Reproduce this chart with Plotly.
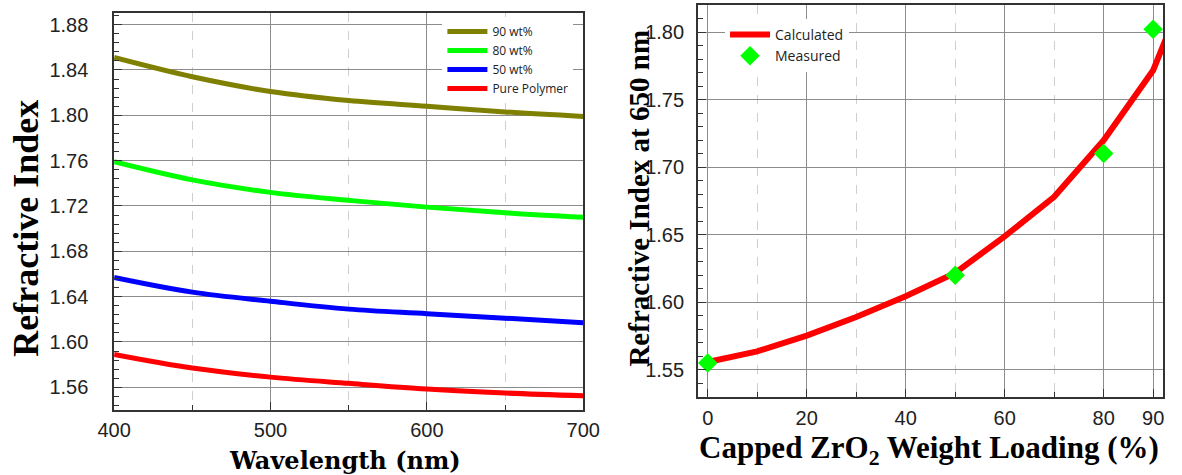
import plotly.graph_objects as go

# Wavelength-dependent refractive index of the composites
wavelength_nm = [400, 450, 500, 550, 600, 650, 700]
n_90wt = [1.851, 1.834, 1.821, 1.813, 1.808, 1.803, 1.799]
n_80wt = [1.759, 1.743, 1.732, 1.725, 1.719, 1.714, 1.710]
n_50wt = [1.657, 1.644, 1.636, 1.629, 1.625, 1.621, 1.617]
n_pure = [1.589, 1.577, 1.569, 1.5635, 1.5585, 1.555, 1.5525]

# Refractive index at 650 nm versus filler loading
loading_calc = [0, 10, 20, 30, 40, 50, 60, 70, 80, 90, 100]
n_calc = [1.5557, 1.5636, 1.5752, 1.589, 1.6044, 1.6217, 1.6487, 1.678, 1.7198, 1.7717, 1.862]
loading_meas = [0, 50, 80, 90]
n_meas = [1.555, 1.620, 1.710, 1.802]

W, H = 1182, 475
TICK_FONT = dict(family="Liberation Sans, Arial", size=20, color="#222")
SERIF = "Liberation Serif"

fig = go.Figure()

left_series = [
    ("90 wt%", n_90wt, "#808000"),
    ("80 wt%", n_80wt, "#00FF00"),
    ("50 wt%", n_50wt, "#0000FF"),
    ("Pure Polymer", n_pure, "#FF0000"),
]
for name, ys, color in left_series:
    fig.add_trace(go.Scatter(
        x=wavelength_nm, y=ys, name=name, mode="lines",
        line=dict(color=color, width=5, shape="spline"),
        xaxis="x", yaxis="y", legend="legend",
    ))

fig.add_trace(go.Scatter(
    x=loading_calc, y=n_calc, name="Calculated", mode="lines",
    line=dict(color="#FF0000", width=6),
    xaxis="x2", yaxis="y2", legend="legend2",
))
fig.add_trace(go.Scatter(
    x=loading_meas, y=n_meas, name="Measured", mode="markers",
    marker=dict(symbol="diamond", size=15, color="#00FF00", line=dict(width=0)),
    xaxis="x2", yaxis="y2", legend="legend2",
))

axis_common = dict(
    showline=True, linecolor="#333", linewidth=1.5, mirror=True,
    ticks="inside", ticklen=8, tickwidth=1.2, tickcolor="#333",
    showgrid=True, gridcolor="#8c8c8c", gridwidth=1,
    zeroline=False, tickfont=TICK_FONT,
)

fig.update_layout(
    width=W, height=H,
    margin=dict(l=0, r=0, t=0, b=0),
    paper_bgcolor="white", plot_bgcolor="white",
    showlegend=True,
    xaxis=dict(
        axis_common, domain=[100 / W, 583 / W], range=[400, 700],
        tickvals=[400, 500, 600, 700], anchor="y",
        minor=dict(tickvals=[450, 550, 650], ticks="inside", ticklen=5,
                   tickcolor="#333", showgrid=True, gridcolor="#cfcfcf",
                   griddash="dash", gridwidth=1),
        ticklabelstandoff=1,
    ),
    yaxis=dict(
        axis_common, domain=[1 - 410 / H, 1 - 13.3 / H], range=[1.54, 1.89],
        tick0=1.56, dtick=0.04, tickformat=".2f", anchor="x",
        minor=dict(tick0=1.56, dtick=0.008, ticks="inside", ticklen=5,
                   tickcolor="#333", showgrid=False),
        ticklabelstandoff=20,
    ),
    xaxis2=dict(
        axis_common, domain=[701 / W, 1180 / W], range=[-2, 92],
        tickvals=[0, 20, 40, 60, 80, 90], anchor="y2",
        minor=dict(tickvals=[10, 30, 50, 70], ticks="inside", ticklen=5,
                   tickcolor="#333", showgrid=True, gridcolor="#cfcfcf",
                   griddash="dash", gridwidth=1),
        ticklabelstandoff=3,
    ),
    yaxis2=dict(
        axis_common, domain=[1 - 396.7 / H, 1 - 5 / H], range=[1.53, 1.82],
        tick0=1.55, dtick=0.05, tickformat=".2f", anchor="x2",
        minor=dict(tick0=1.55, dtick=0.01, ticks="inside", ticklen=5,
                   tickcolor="#333", showgrid=False),
        ticklabelstandoff=8,
    ),
    legend=dict(
        x=438 / W, y=1 - 17 / H, xanchor="left", yanchor="top",
        bgcolor="white", borderwidth=0,
        font=dict(family="Open Sans", size=12, color="#222"),
        itemwidth=40, tracegroupgap=0,
    ),
    legend2=dict(
        x=729 / W, y=1 - 19 / H, xanchor="left", yanchor="top",
        bgcolor="white", borderwidth=0,
        font=dict(family="Open Sans", size=14, color="#222"),
        itemwidth=40, tracegroupgap=0,
    ),
    annotations=[
        dict(text="<b>Refractive Index</b>", x=9 / W, y=1 - 228 / H,
             xref="paper", yref="paper", textangle=-90, showarrow=False,
             xanchor="center", yanchor="middle",
             font=dict(family=SERIF, size=36, color="black")),
        dict(text="<b>Wavelength (nm)</b>", x=338 / W, y=1 - 460 / H,
             xref="paper", yref="paper", showarrow=False,
             xanchor="center", yanchor="middle",
             font=dict(family="DejaVu Serif", size=24, color="black")),
        dict(text="<b>Refractive Index at 650 nm</b>", x=640 / W, y=1 - 198 / H,
             xref="paper", yref="paper", textangle=-90, showarrow=False,
             xanchor="center", yanchor="middle",
             font=dict(family=SERIF, size=29, color="black")),
        dict(text="<b>Capped ZrO<sub>2</sub> Weight Loading (%)</b>", x=939 / W, y=1 - 450 / H,
             xref="paper", yref="paper", showarrow=False,
             xanchor="center", yanchor="middle",
             font=dict(family=SERIF, size=31, color="black")),
    ],
)

fig.write_html("out.html")
